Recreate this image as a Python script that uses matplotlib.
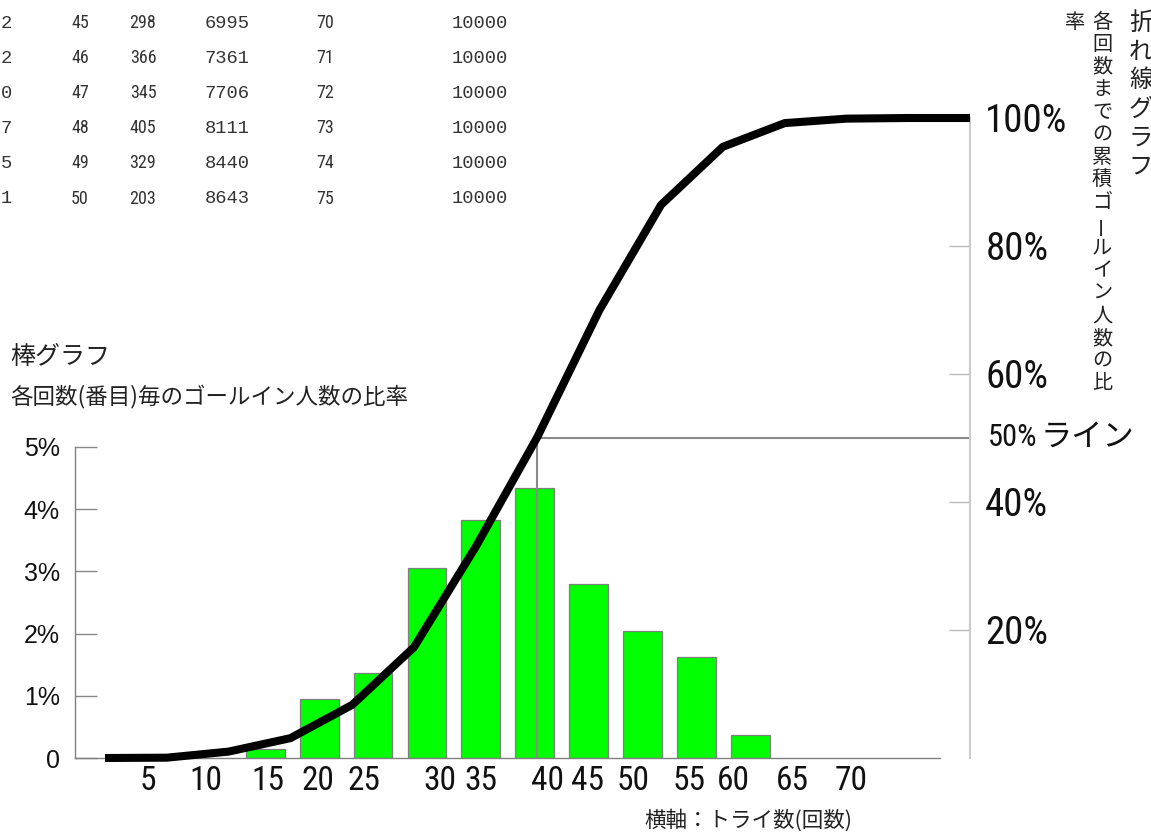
import numpy as np
import matplotlib
matplotlib.use("Agg")
import matplotlib.pyplot as plt
from matplotlib import font_manager

# ---------------- data ----------------
bar_x = [15, 20, 25, 30, 35, 40, 45, 50, 55, 60]
bar_pct = [0.15, 0.95, 1.36, 3.05, 3.83, 4.34, 2.79, 2.04, 1.63, 0.37]

line_x = [5, 10, 15, 20, 25, 30, 35, 40, 45, 50, 55, 60, 65, 70, 75]
line_cum = [0.0, 0.05, 1.0, 3.1, 8.3, 17.3, 33.0, 50.2, 69.95, 86.43, 95.5, 99.2, 99.9, 100.0, 100.0]

x_ticks = [5, 10, 15, 20, 25, 30, 35, 40, 45, 50, 55, 60, 65, 70]
left_ticks = [0, 1, 2, 3, 4, 5]
left_labels = ["0", "1%", "2%", "3%", "4%", "5%"]
right_ticks = [20, 40, 60, 80, 100]
right_labels = ["20%", "40%", "60%", "80%", "100%"]

tbl_col0 = ["2", "2", "0", "7", "5", "1"]
tbl_n1 = [45, 46, 47, 48, 49, 50]
tbl_cnt = [298, 366, 345, 405, 329, 203]
tbl_cum = [6995, 7361, 7706, 8111, 8440, 8643]
tbl_n2 = [70, 71, 72, 73, 74, 75]
tbl_tot = [10000, 10000, 10000, 10000, 10000, 10000]

# layout: small horizontal nudges of the x tick labels (the source places them unevenly)
xtick_shift = [-0.9, -0.5, 0.2, -0.1, -0.85, 1.2, 0.0, 1.2, -0.1, -0.9, -0.7, -1.6, -1.1, -0.6]

# ---------------- fonts ----------------
names = {f.name for f in font_manager.fontManager.ttflist}
NARROW = None
for cand in ["Liberation Sans Narrow", "Roboto Condensed", "Open Sans Condensed", "DejaVu Sans Condensed"]:
    if cand in names:
        NARROW = cand
        break
if NARROW is None:
    NARROW = "Liberation Sans"
JP = "Noto Sans CJK JP"
MONO = "Liberation Mono"
plt.rcParams["font.family"] = ["Liberation Sans", JP, "DejaVu Sans"]

W, H = 1151, 832
fig = plt.figure(figsize=(W / 100, H / 100), dpi=100)
fig.patch.set_facecolor("white")


def fx(px):
    return px / W


def fy(py):
    return 1 - py / H


# ---------------- bar axes ----------------
ax_b = fig.add_axes([fx(75), fy(758), (940 - 75) / W, (758 - 447) / H])
ax_b.bar(bar_x, bar_pct, width=3.6, color="#00ff00", edgecolor="#7f7f7f",
         linewidth=0.9, zorder=2)
ax_b.set_xlim(-2.65, 77.6)
ax_b.set_ylim(0, 5)
for s in ["top", "right"]:
    ax_b.spines[s].set_visible(False)
for s in ["left", "bottom"]:
    ax_b.spines[s].set_color("#808080")
    ax_b.spines[s].set_linewidth(1.0)
ax_b.set_yticks(left_ticks, left_labels)
ax_b.tick_params(axis="y", direction="in", length=16, width=1.0, color="#888888",
                 labelsize=18, pad=11, labelcolor="#111111")
ax_b.set_xticks([v + d for v, d in zip(x_ticks, xtick_shift)], [str(v) for v in x_ticks])
ax_b.tick_params(axis="x", length=0, pad=5, labelsize=24, labelcolor="#111111")
for lab in ax_b.get_xticklabels():
    lab.set_fontfamily(NARROW)
ax_b.patch.set_visible(False)

# ---------------- line axes ----------------
ax_l = fig.add_axes([fx(75), fy(758), (970 - 75) / W, (758 - 118) / H])
ax_l.patch.set_visible(False)
ax_l.set_xlim(2.57, 75)
ax_l.set_ylim(0, 100)
for s in ["top", "left", "bottom"]:
    ax_l.spines[s].set_visible(False)
ax_l.spines["right"].set_color("#cccccc")
ax_l.spines["right"].set_linewidth(1.5)
ax_l.set_xticks([])
ax_l.yaxis.tick_right()
ax_l.set_yticks(right_ticks, right_labels)
ax_l.tick_params(axis="y", direction="in", length=15, width=1.0, color="#bbbbbb",
                 labelsize=28, pad=11, labelcolor="#111111")
for lab in ax_l.get_yticklabels():
    lab.set_fontfamily(NARROW)

cum = np.array(line_cum)
xs = np.array(line_x, dtype=float)
inc = np.concatenate([[True], np.diff(cum) > 0])
half_x = float(np.interp(50, cum[inc], xs[inc]))
ax_l.plot([half_x, half_x], [0, 50], color="#8a8a8a", lw=1.5, zorder=2.5)
ax_l.plot([half_x, 75], [50, 50], color="#8a8a8a", lw=1.5, zorder=2.5, clip_on=False)
ax_l.plot(line_x, line_cum, color="black", lw=5.8, clip_on=False,
          solid_capstyle="butt", solid_joinstyle="round", zorder=3)

# ---------------- texts ----------------
fig.text(fx(988), fy(438), "50%", family=NARROW, fontsize=22, ha="left", va="center",
         color="#111111")
fig.text(fx(1041), fy(437), "ライン", family=[JP], fontsize=22.5, ha="left", va="center",
         color="#111111")

fig.text(fx(10), fy(357), "棒グラフ", family=[JP], fontsize=18, ha="left", va="center",
         color="#222222")
fig.text(fx(10), fy(397), "各回数(番目)毎のゴールイン人数の比率", family=[JP], fontsize=16.2,
         ha="left", va="center", color="#222222")
fig.text(fx(748), fy(820), "横軸：トライ数(回数)", family=[JP], fontsize=15.5,
         ha="center", va="center", color="#222222")


def vtext(s, x, y0, step, size):
    for i, ch in enumerate(s):
        rot = 90 if ch == "ー" else 0
        fig.text(fx(x), fy(y0 + i * step), ch, family=[JP], fontsize=size,
                 ha="center", va="center", rotation=rot, color="#222222")


vtext("折れ線グラフ", 1141, 23, 28.6, 17.5)
vtext("各回数までの累積ゴールイン人数の比", 1102, 22, 22.6, 14.5)
vtext("率", 1075, 22, 22.6, 14.5)

# ---------------- table ----------------
for i in range(6):
    y = fy(23 + i * 35.1)
    fig.text(fx(12), y, tbl_col0[i], family=MONO, fontsize=13.5, ha="right", va="center", color="#333333")
    fig.text(fx(80), y, str(tbl_n1[i]), family=NARROW, fontsize=13, ha="center", va="center", color="#333333")
    fig.text(fx(143), y, str(tbl_cnt[i]), family=NARROW, fontsize=13, ha="center", va="center", color="#333333")
    fig.text(fx(227), y, str(tbl_cum[i]), family=MONO, fontsize=13.5, ha="center", va="center", color="#333333")
    fig.text(fx(325), y, str(tbl_n2[i]), family=NARROW, fontsize=13, ha="center", va="center", color="#333333")
    fig.text(fx(480), y, str(tbl_tot[i]), family=MONO, fontsize=13.5, ha="center", va="center", color="#333333")

fig.savefig("out.png", dpi=100, facecolor="white")
